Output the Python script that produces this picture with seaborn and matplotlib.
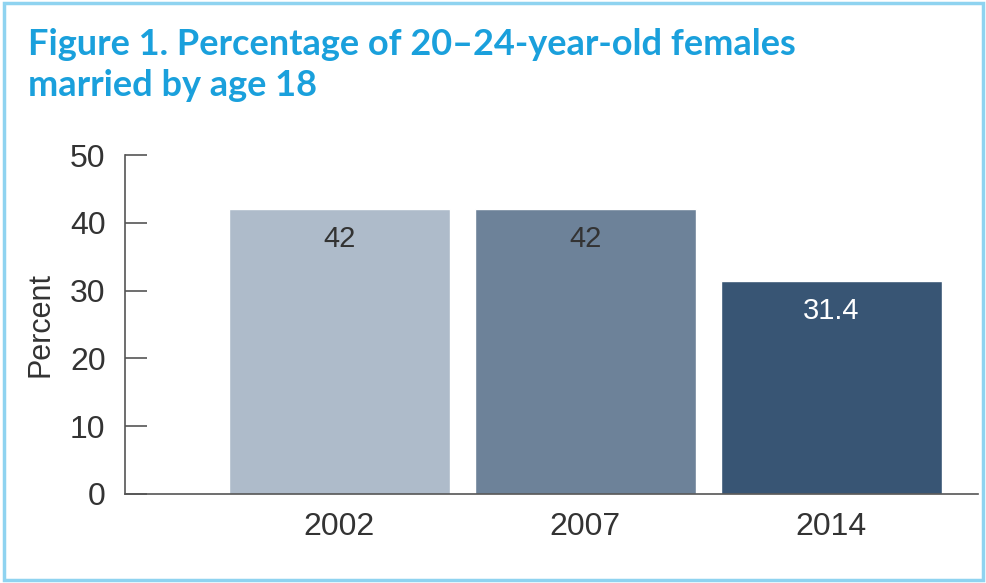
import matplotlib
matplotlib.use("Agg")
import matplotlib.pyplot as plt
import seaborn as sns
import pandas as pd
from matplotlib.patches import Rectangle

years = ["2002", "2007", "2014"]
values = [42, 42, 31.4]
labels = ["42", "42", "31.4"]
bar_colors = ["#aebbca", "#6d8299", "#385574"]
label_colors = ["#333333", "#333333", "#ffffff"]
yticks = [0, 10, 20, 30, 40, 50]

sns.set_style("white")
plt.rcParams["font.family"] = ["Liberation Sans", "DejaVu Sans"]

df = pd.DataFrame({"year": years, "value": values})

fig = plt.figure(figsize=(9.87, 5.83), dpi=100)
ax = fig.add_axes([0.1266, 0.1527, 0.9909 - 0.1266, 0.7341 - 0.1527])

sns.barplot(data=df, x="year", y="value", hue="year", palette=bar_colors,
            width=0.9, saturation=1, legend=False, ax=ax)

for i, (v, lab, c) in enumerate(zip(values, labels, label_colors)):
    ax.text(i, v - 4.4, lab, ha="center", va="center", fontsize=21, color=c)

ax.set_ylim(0, 50)
ax.set_xlim(-0.872, 2.596)
ax.set_yticks(yticks)
ax.set_xlabel("")
ax.set_ylabel("Percent", fontsize=22, color="#333333", labelpad=10)
for s in ["top", "right"]:
    ax.spines[s].set_visible(False)
for s in ["left", "bottom"]:
    ax.spines[s].set_color("#555555")
    ax.spines[s].set_linewidth(1.2)
ax.tick_params(axis="y", direction="in", length=16, width=1.2, color="#555555",
               labelsize=23, labelcolor="#333333", pad=14, left=True)
ax.tick_params(axis="x", length=0, labelsize=23, labelcolor="#333333", pad=13)

fig.text(0.028, 0.952, "Figure 1. Percentage of 20\u201324-year-old females\nmarried by age 18",
         ha="left", va="top", fontsize=26, fontweight="bold", color="#1aa0dc",
         family=["Lato", "DejaVu Sans"], linespacing=1.28)

fig.patches.append(Rectangle((0.004, 0.006), 0.992, 0.988, transform=fig.transFigure,
                             fill=False, edgecolor="#8fd3f0", linewidth=2.5))

fig.savefig("out.png", dpi=100)
